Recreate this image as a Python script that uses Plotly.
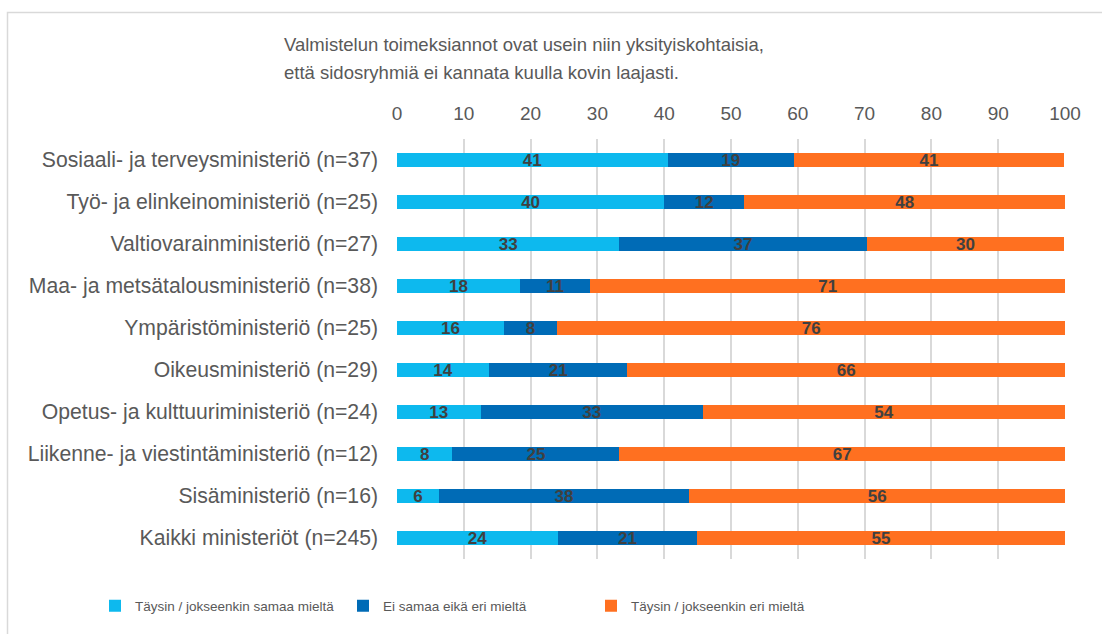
import plotly.graph_objects as go

categories = [
    "Sosiaali- ja terveysministeriö (n=37)",
    "Työ- ja elinkeinoministeriö (n=25)",
    "Valtiovarainministeriö (n=27)",
    "Maa- ja metsätalousministeriö (n=38)",
    "Ympäristöministeriö (n=25)",
    "Oikeusministeriö (n=29)",
    "Opetus- ja kulttuuriministeriö (n=24)",
    "Liikenne- ja viestintäministeriö (n=12)",
    "Sisäministeriö (n=16)",
    "Kaikki ministeriöt (n=245)",
]
samaa = [40.5, 40.0, 33.3, 18.4, 16.0, 13.8, 12.5, 8.3, 6.25, 24.1]
ei_samaa_eika_eri = [18.9, 12.0, 37.0, 10.53, 8.0, 20.7, 33.3, 25.0, 37.5, 20.8]
eri = [40.5, 48.0, 29.6, 71.1, 76.0, 65.5, 54.2, 66.7, 56.25, 55.1]

series_names = [
    "Täysin / jokseenkin samaa mieltä",
    "Ei samaa eikä eri mieltä",
    "Täysin / jokseenkin eri mieltä",
]
colors = ["#0DB9EE", "#006BB6", "#FF7020"]
title_lines = [
    "Valmistelun toimeksiannot ovat usein niin yksityiskohtaisia,",
    "että sidosryhmiä ei kannata kuulla kovin laajasti.",
]
tick_vals = list(range(0, 101, 10))

W, H = 1102, 634
L, R, T, B = 397, 37, 139, 75
pw, ph = W - L - R, H - T - B

def px_x(p):
    return (p - L) / pw

def px_y(p):
    return 1 + (T - p) / ph

FONT = "Liberation Sans, Arial, sans-serif"

fig = go.Figure()
for name, vals, col in zip(series_names, [samaa, ei_samaa_eika_eri, eri], colors):
    fig.add_trace(go.Bar(
        y=categories, x=vals, name=name, orientation="h",
        marker=dict(color=col, line=dict(width=0)),
        texttemplate="%{x:.0f}", textposition="inside",
        insidetextanchor="middle", textangle=0, constraintext="none",
        textfont=dict(family=FONT, size=17, color="#404040", weight="bold"),
        hoverinfo="x+y",
    ))

annotations = []
for i, line in enumerate(title_lines):
    annotations.append(dict(
        text=line, xref="paper", yref="paper",
        x=px_x(282), y=px_y(45 + 27 * i), xanchor="left", yanchor="middle",
        align="left", showarrow=False,
        font=dict(family=FONT, size=18.5, color="#595959"),
    ))

fig.update_layout(
    width=W, height=H,
    margin=dict(l=L, r=R, t=T, b=B),
    barmode="stack", bargap=0.66,
    plot_bgcolor="white", paper_bgcolor="white",
    font=dict(family=FONT, color="#595959", size=18),
    xaxis=dict(side="top", range=[0, 100], tickvals=tick_vals,
               showgrid=True, gridcolor="#D9D9D9", gridwidth=1.5,
               zeroline=False, showline=False, ticks="",
               ticklabelstandoff=14,
               tickfont=dict(family=FONT, size=19, color="#595959"), fixedrange=True),
    yaxis=dict(categoryorder="array", categoryarray=categories,
               autorange="reversed", showgrid=False, zeroline=False,
               ticks="", ticklabelstandoff=18,
               tickfont=dict(family=FONT, size=21.2, color="#595959")),
    legend=dict(orientation="h", x=px_x(95), xanchor="left",
                y=px_y(606), yanchor="middle",
                font=dict(family=FONT, size=13.5, color="#595959"),
                traceorder="normal", entrywidth=203, entrywidthmode="pixels"),
    showlegend=True,
    annotations=annotations,
    shapes=[dict(type="rect", xref="paper", yref="paper",
                 x0=px_x(7.5), y0=px_y(700), x1=px_x(1200), y1=px_y(12.5),
                 line=dict(color="#D9D9D9", width=1.5), fillcolor="rgba(0,0,0,0)",
                 layer="below")],
)

fig.write_html("out.html", config={"displayModeBar": False},
               post_script="document.body.style.margin='0px';")
